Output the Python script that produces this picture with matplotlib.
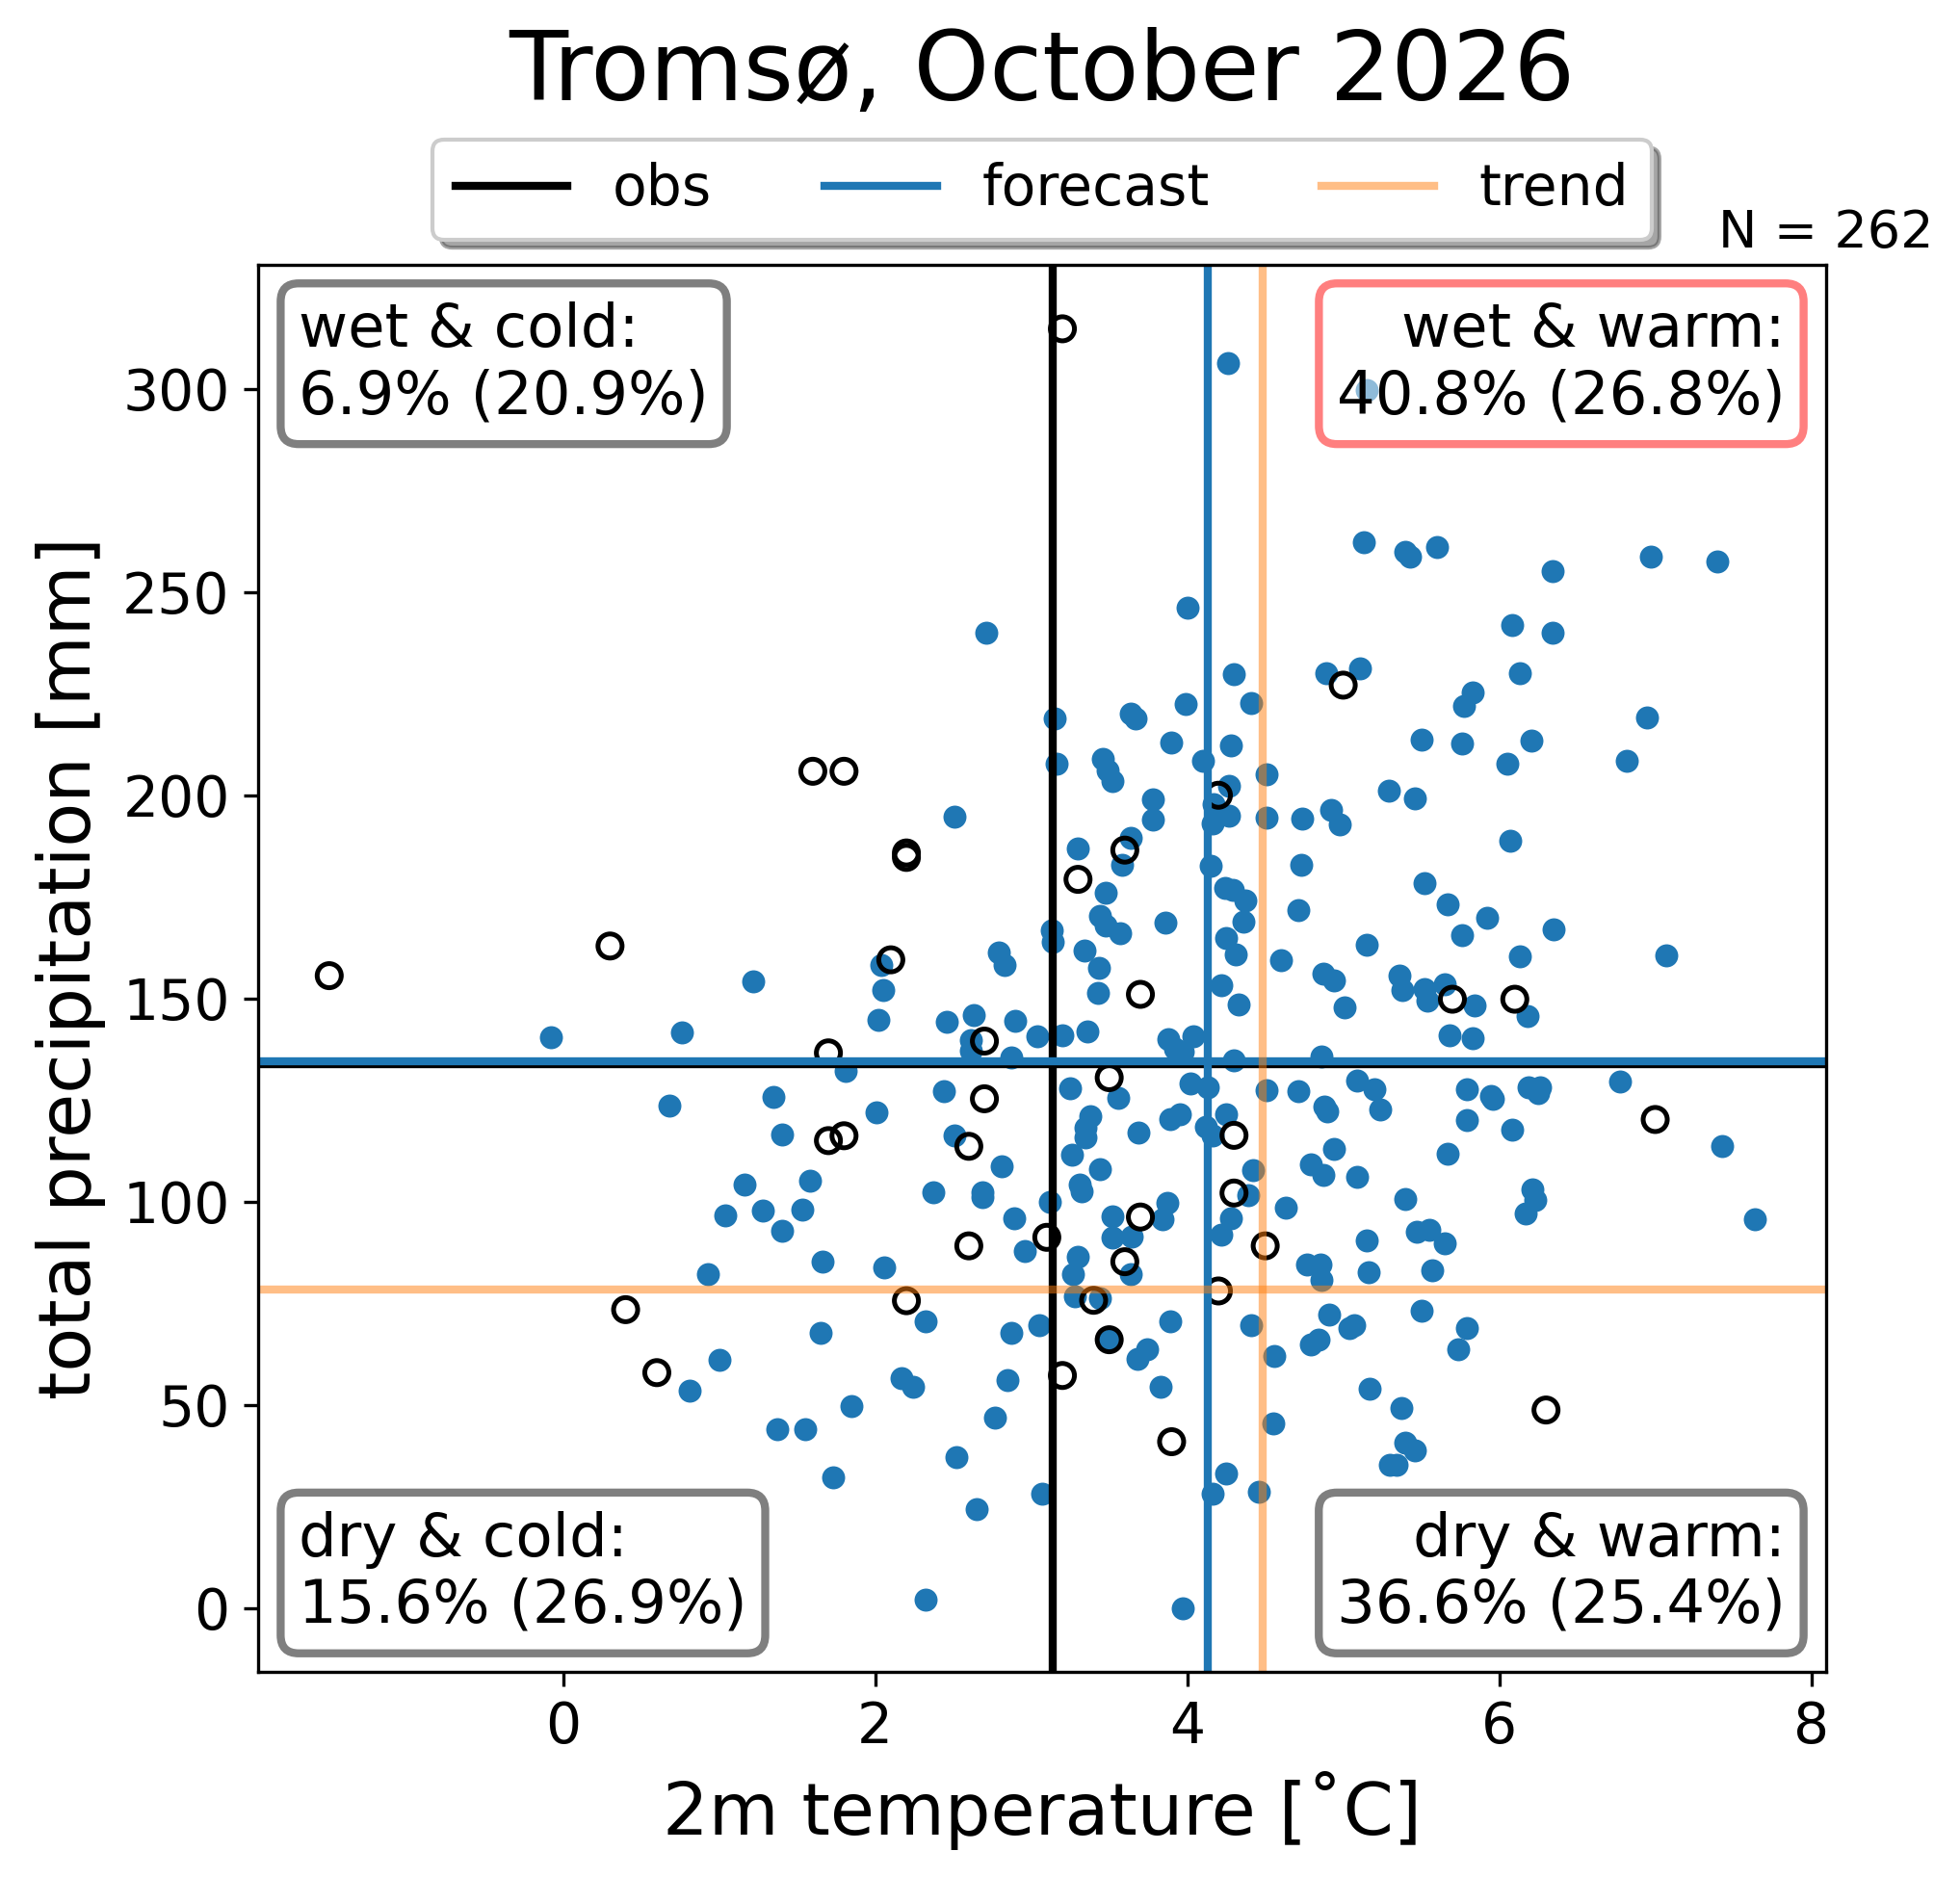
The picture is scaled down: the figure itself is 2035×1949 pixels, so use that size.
import matplotlib
matplotlib.use("Agg")
import matplotlib.pyplot as plt

# forecast members: 2m temperature [degC] and total precipitation [mm]
fc_temp = [1.22, -0.08, 0.76, 0.68, 1.35, 1.40, 1.16, 1.04, 1.28, 1.40, 0.93, 1.00, 0.81, 1.37,
           2.04, 2.83, 2.79, 3.435, 3.34, 4.31, 4.60,
           2.05, 3.43, 2.02, 2.46, 2.63, 2.90, 2.61, 2.61, 3.04, 3.20, 3.36, 2.87, 3.88, 4.04, 3.92, 3.97, 4.22, 4.33, 4.30,
           1.81, 2.01, 2.44, 3.25, 3.56, 3.38, 3.35, 3.35, 3.69, 3.89, 3.95, 4.02, 4.13, 4.25, 4.12, 4.16, 4.51, 4.715,
           4.42, 4.39, 4.28, 4.22, 4.63, 4.41, 4.56, 4.55, 4.25, 4.16, 4.46, 3.97,
           1.58, 1.53, 1.66, 2.06, 2.375, 2.51, 2.69, 2.69, 2.81, 2.89, 3.12, 2.96, 3.26, 3.44, 3.31, 3.32,
           3.52, 3.52, 3.645, 3.87, 3.84, 3.30, 3.27, 3.635, 3.28, 3.44, 1.65, 2.32, 2.87, 3.05, 3.50, 3.745,
           3.68, 3.89, 3.83, 2.17, 2.24, 2.85, 1.85, 1.55, 2.77, 1.73, 2.52, 3.07, 2.65, 2.32,
           4.26, 2.71, 4.00, 4.30, 4.41, 3.99, 3.15, 3.64, 3.67, 3.16, 3.90, 4.10, 4.28, 4.51,
           3.46, 3.49, 3.52, 3.78, 3.78, 2.51, 4.27, 4.17, 4.27, 4.165, 4.51, 3.64, 3.585, 3.30, 4.15,
           4.24, 4.29, 4.37, 3.48, 3.44, 3.48, 3.57, 3.86, 4.36, 4.25, 3.13, 3.14, 4.74, 4.73, 4.71,
           5.15, 5.13, 5.40, 5.43, 5.60, 6.34, 6.97, 7.40, 6.08, 6.34, 4.89, 5.11, 6.135, 5.83, 5.775,
           6.945, 5.50, 5.76, 6.205, 6.05, 6.82, 5.29, 5.46, 4.92, 4.975, 6.07, 5.52, 5.67, 5.92, 6.35,
           5.76, 5.15, 6.13, 7.07,
           4.87, 4.94, 5.36, 5.38, 5.52, 5.65, 5.54, 5.84, 6.18, 5.01, 5.68, 5.83, 4.86,
           5.09, 5.20, 5.24, 4.88, 4.90, 5.79, 5.95, 5.96, 6.19, 6.26, 6.25, 6.775, 5.79, 6.08,
           4.94, 4.79, 4.87, 5.09, 5.67, 5.40, 6.21, 6.23, 6.17, 7.43, 7.64,
           5.15, 5.47, 5.55, 5.65, 4.77, 4.855, 4.86, 5.16, 5.57,
           4.91, 5.50, 5.04, 5.07, 4.79, 4.84, 5.795, 5.74,
           5.17, 5.37, 5.40, 5.46, 5.30, 5.34]
fc_prec = [154.1, 140.4, 141.6, 123.6, 125.8, 116.5, 104.2, 96.5, 97.8, 92.8, 82.1, 61.1, 53.4, 44.0,
           158.3, 158.3, 161.2, 157.6, 161.8, 160.8, 159.5,
           152.1, 151.4, 144.8, 144.2, 145.9, 144.5, 139.7, 137.2, 140.7, 140.9, 141.8, 135.4, 140.0, 140.6, 137.6, 136.8, 153.2, 148.4, 134.8,
           132.2, 122.0, 127.1, 128.0, 125.4, 121.0, 118.2, 115.9, 117.1, 120.2, 121.4, 129.0, 128.1, 121.4, 118.4, 116.3, 127.5, 127.2,
           107.7, 101.6, 96.0, 91.9, 98.5, 69.5, 61.9, 45.5, 33.0, 28.0, 28.6, 0.0,
           105.1, 98.1, 85.2, 83.7, 102.4, 116.2, 102.4, 101.0, 108.7, 96.0, 100.0, 87.8, 111.5, 107.9, 104.3, 102.5,
           96.4, 91.2, 91.5, 99.8, 95.6, 86.4, 82.2, 82.1, 76.8, 76.3, 67.7, 70.6, 67.6, 69.5, 65.9, 63.6,
           61.2, 70.6, 54.4, 56.6, 54.5, 56.0, 49.6, 44.0, 46.9, 32.1, 37.1, 28.0, 24.3, 2.1,
           306.3, 239.9, 246.2, 229.7, 222.7, 222.5, 218.8, 220.2, 219.0, 207.8, 213.0, 208.5, 212.2, 205.2,
           208.9, 206.2, 203.5, 198.9, 193.9, 194.7, 202.2, 197.8, 195.0, 193.1, 194.5, 189.5, 182.8, 186.9, 182.6,
           177.3, 176.7, 174.0, 176.0, 170.3, 167.9, 166.0, 168.7, 169.0, 164.8, 166.8, 164.0, 194.3, 182.8, 171.8,
           299.7, 262.2, 259.8, 258.7, 261.2, 255.2, 258.7, 257.6, 241.9, 239.9, 230.1, 231.3, 230.1, 225.2, 222.1,
           219.2, 213.6, 212.7, 213.5, 207.8, 208.5, 201.1, 199.2, 196.5, 192.8, 188.9, 178.4, 173.2, 169.9, 167.1,
           165.5, 163.2, 160.3, 160.6,
           156.1, 154.4, 155.6, 152.1, 152.4, 153.5, 149.4, 148.3, 145.6, 147.9, 140.9, 140.1, 135.7,
           129.9, 127.6, 122.6, 123.4, 122.2, 127.6, 126.1, 125.3, 128.1, 128.1, 126.7, 129.6, 120.0, 117.7,
           112.9, 109.2, 106.5, 106.0, 111.7, 100.7, 103.1, 100.4, 97.1, 113.6, 95.7,
           90.5, 92.6, 93.0, 89.7, 84.6, 84.6, 80.8, 82.5, 83.2,
           72.1, 73.2, 68.9, 69.5, 64.8, 66.0, 68.9, 63.6,
           53.9, 49.3, 40.6, 38.8, 35.3, 35.3]

# observed years
obs_temp = [-1.5, 0.3, 0.4, 0.6, 3.2, 1.6, 1.8, 2.2, 2.2, 3.3, 3.6, 4.2,
            2.1, 1.7, 2.7, 3.5, 2.7, 1.7, 1.8, 2.6, 3.7, 4.3, 4.3, 3.7, 3.1, 2.6,
            4.5, 3.6, 2.2, 3.4, 4.2, 3.5, 3.2, 3.9, 5.0, 5.7, 6.1, 7.0, 6.3]
obs_prec = [155.6, 162.9, 73.4, 57.9, 314.8, 205.9, 205.9, 185.8, 184.7, 179.3, 186.5, 200.0,
            159.5, 136.6, 139.5, 130.5, 125.3, 115.0, 116.2, 113.6, 151.0, 116.3, 102.1, 96.2, 91.2, 89.1,
            89.1, 85.2, 75.6, 75.7, 78.0, 66.0, 57.2, 40.9, 227.1, 149.8, 149.8, 120.2, 48.7]

# reference lines: [temperature, precipitation]
obs_ref = [3.137, 133.9]
fc_ref = [4.132, 134.6]
trend_ref = [4.481, 78.3]

quadrant_text = ['wet & cold:\n6.9% (20.9%)', 'wet & warm:\n40.8% (26.8%)',
                 'dry & cold:\n15.6% (26.9%)', 'dry & warm:\n36.6% (25.4%)']
n_members = 262

fig = plt.figure(figsize=(2035 / 300, 1949 / 300), dpi=300)
ax = fig.add_axes([0.1316, 0.1093, 0.8002, 0.7496])

ax.scatter(fc_temp, fc_prec, s=33, color='C0', linewidths=0)
ax.scatter(obs_temp, obs_prec, s=36, facecolors='none', edgecolors='k', linewidths=1.2)

ax.axvline(obs_ref[0], color='k', lw=2, label='obs')
ax.axhline(obs_ref[1], color='k', lw=2)
ax.axvline(fc_ref[0], color='C0', lw=2, label='forecast')
ax.axhline(fc_ref[1], color='C0', lw=2)
ax.axvline(trend_ref[0], color='C1', alpha=0.5, lw=2, label='trend')
ax.axhline(trend_ref[1], color='C1', alpha=0.5, lw=2)

grey_box = dict(boxstyle='round', facecolor='white', edgecolor='k', alpha=0.5, linewidth=2)
red_box = dict(boxstyle='round', facecolor='white', edgecolor='r', alpha=0.5, linewidth=2)
ax.text(0.026, 0.974, quadrant_text[0], transform=ax.transAxes, ha='left', va='top',
        fontsize=15, bbox=grey_box)
ax.text(0.974, 0.974, quadrant_text[1], transform=ax.transAxes, ha='right', va='top',
        fontsize=15, bbox=red_box)
ax.text(0.026, 0.026, quadrant_text[2], transform=ax.transAxes, ha='left', va='bottom',
        fontsize=15, bbox=grey_box)
ax.text(0.974, 0.026, quadrant_text[3], transform=ax.transAxes, ha='right', va='bottom',
        fontsize=15, bbox=grey_box)

ax.text(1.0, 1.012, 'N = %d' % n_members, transform=ax.transAxes, ha='center',
        va='baseline', fontsize=13)

ax.legend(loc='lower center', bbox_to_anchor=(0.5, 1.0), ncol=3, shadow=True,
          fontsize=14, borderaxespad=0.45)
ax.set_title('Tromsø, October 2026', fontsize=24, pad=41)
ax.set_xlabel('2m temperature [˚C]', fontsize=18)
ax.set_ylabel('total precipitation [mm]', fontsize=18)
ax.tick_params(labelsize=14)

fig.savefig('out.png', dpi=300)
